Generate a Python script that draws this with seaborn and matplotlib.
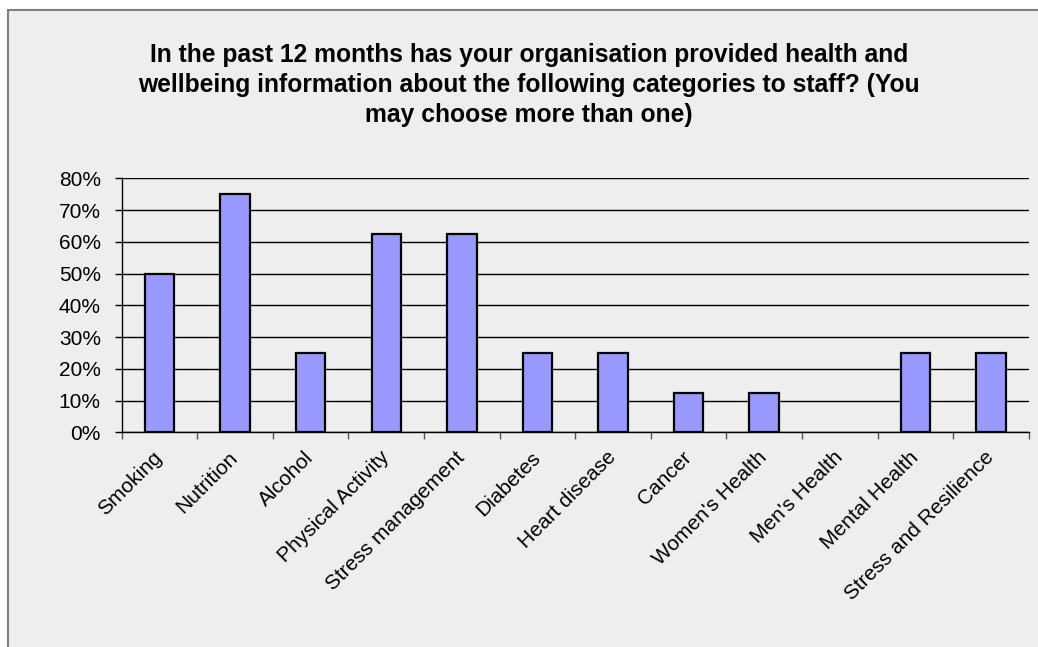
import matplotlib
matplotlib.use("Agg")
import matplotlib.pyplot as plt
import matplotlib.patches as mpatches
from matplotlib.ticker import PercentFormatter, FixedLocator, NullFormatter
import seaborn as sns
import pandas as pd

categories = ["Smoking", "Nutrition", "Alcohol", "Physical Activity", "Stress management",
              "Diabetes", "Heart disease", "Cancer", "Women's Health", "Men's Health",
              "Mental Health", "Stress and Resilience"]
values = [0.50, 0.75, 0.25, 0.625, 0.625, 0.25, 0.25, 0.125, 0.125, 0.0, 0.25, 0.25]
title_lines = ["In the past 12 months has your organisation provided health and",
               "wellbeing information about the following categories to staff? (You",
               "may choose more than one)"]

sns.set_theme(style="white")
plt.rcParams['font.family'] = ['Liberation Sans', 'DejaVu Sans']

W, H = 1038, 647
fig = plt.figure(figsize=(W / 100, H / 100), dpi=100, facecolor="white")

# chart frame
frame = mpatches.Rectangle((8 / W, -0.2), 1.2, 1 - 10 / H + 0.2, transform=fig.transFigure,
                           facecolor="#EEEEEE", edgecolor="#7f7f7f", linewidth=1.5, zorder=-5)
fig.patches.append(frame)

ax = fig.add_axes([121.7 / W, 1 - 432.3 / H, (1028.7 - 121.7) / W, (432.3 - 178.3) / H])
ax.set_zorder(1)
ax.set_facecolor("#EEEEEE")

df = pd.DataFrame({"category": categories, "value": values})
sns.barplot(data=df, x="category", y="value", color="#9999FF", saturation=1,
            edgecolor="black", linewidth=1.6, width=0.39, ax=ax, zorder=3)
for p in ax.patches:
    if p.get_height() == 0:
        p.set_linewidth(0)

ax.set_ylim(0, 0.8)
ax.set_xlim(-0.5, len(categories) - 0.5)
ax.set_yticks([i / 10 for i in range(9)])
ax.yaxis.set_major_formatter(PercentFormatter(1, decimals=0))
ax.yaxis.grid(True, color="black", linewidth=1.0, zorder=1)
ax.set_axisbelow(True)
ax.set_xlabel("")
ax.set_ylabel("")

for s in ["top", "right"]:
    ax.spines[s].set_visible(False)
for s in ["left", "bottom"]:
    ax.spines[s].set_color("black")
    ax.spines[s].set_linewidth(1.0)

ax.tick_params(axis="y", which="major", left=True, length=5, width=1, color="black",
               pad=10, labelsize=15, labelcolor="black")
ax.tick_params(axis="x", which="major", bottom=False, length=0, pad=16, labelsize=15,
               labelcolor="black")
ax.xaxis.set_minor_locator(FixedLocator([i - 0.5 for i in range(len(categories) + 1)]))
ax.xaxis.set_minor_formatter(NullFormatter())
ax.tick_params(axis="x", which="minor", bottom=True, length=5, width=1, color="#555555")

for lab in ax.get_xticklabels():
    lab.set_rotation(45)
    lab.set_ha("right")
    lab.set_va("center")
    lab.set_rotation_mode("anchor")

cx = 529 / W
for i, line in enumerate(title_lines):
    fig.text(cx, 1 - (61.7 + 30 * i) / H, line, ha="center", va="baseline",
             fontsize=17.7, fontweight="bold", color="black")

fig.savefig("out.png", dpi=100, facecolor="white")
